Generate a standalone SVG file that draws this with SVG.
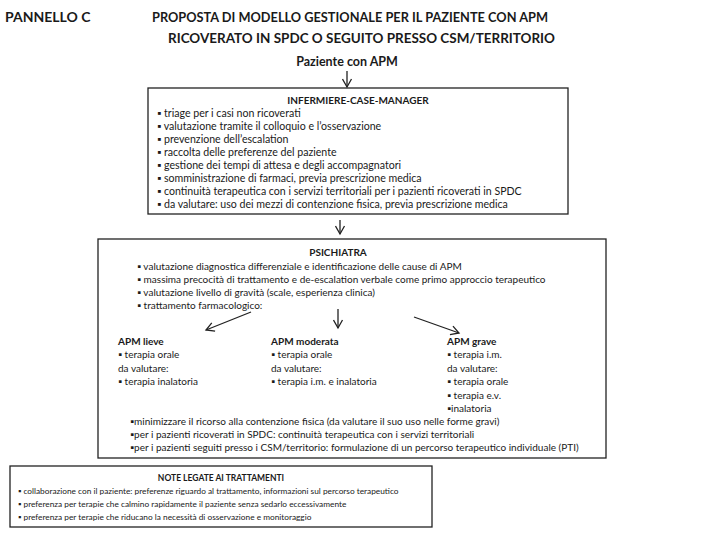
<svg xmlns="http://www.w3.org/2000/svg" width="720" height="540" viewBox="0 0 720 540">
<style>
text{font-family:Lato,"Open Sans","Liberation Sans",sans-serif;fill:#1a1a1a}
.t{font-size:14px;font-weight:bold}
.h{font-size:10px;font-weight:bold;text-anchor:middle}
.b{font-size:10px}
.b1{font-size:10.6px}
.s{font-size:8.3px}
.hs{font-size:8.5px;font-weight:bold;text-anchor:middle}
.bx{fill:#fff;stroke:#222;stroke-width:1.3}
.ar{stroke:#222;stroke-width:1.3;fill:none;marker-end:url(#ah)}
</style>
<defs>
<marker id="ah" markerWidth="11" markerHeight="11" refX="9" refY="5.5" orient="auto" markerUnits="userSpaceOnUse">
<path d="M1,1 L9,5.5 L1,10" fill="none" stroke="#222" stroke-width="1.3"/>
</marker>
</defs>
<rect width="720" height="540" fill="#fff"/>
<g id="title">
<text class="t" x="5" y="22">PANNELLO C</text>
<text class="t" x="152" y="22" textLength="396" lengthAdjust="spacingAndGlyphs">PROPOSTA DI MODELLO GESTIONALE PER IL PAZIENTE CON APM</text>
<text class="t" x="168" y="43" textLength="387" lengthAdjust="spacingAndGlyphs">RICOVERATO IN SPDC O SEGUITO PRESSO CSM/TERRITORIO</text>
</g>
<g id="paziente">
<text x="347" y="66" style="font-size:12.5px;font-weight:bold;text-anchor:middle">Paziente con APM</text>
</g>
<g id="infermiere">
<rect class="bx" x="148" y="88" width="420" height="126"/>
<text class="h" x="358" y="104">INFERMIERE-CASE-MANAGER</text>
<text class="b1" x="157" y="117">▪ triage per i casi non ricoverati</text>
<text class="b1" x="157" y="130">▪ valutazione tramite il colloquio e l’osservazione</text>
<text class="b1" x="157" y="143">▪ prevenzione dell’escalation</text>
<text class="b1" x="157" y="156">▪ raccolta delle preferenze del paziente</text>
<text class="b1" x="157" y="169">▪ gestione dei tempi di attesa e degli accompagnatori</text>
<text class="b1" x="157" y="182">▪ somministrazione di farmaci, previa prescrizione medica</text>
<text class="b1" x="157" y="195">▪ continuità terapeutica con i servizi territoriali per i pazienti ricoverati in SPDC</text>
<text class="b1" x="157" y="208">▪ da valutare: uso dei mezzi di contenzione fisica, previa prescrizione medica</text>
</g>
<g id="psichiatra">
<rect class="bx" x="98" y="239" width="508" height="219"/>
<text class="h" x="338" y="256">PSICHIATRA</text>
<text class="b" x="137" y="270">▪ valutazione diagnostica differenziale e identificazione delle cause di APM</text>
<text class="b" x="137" y="283">▪ massima precocità di trattamento e de-escalation verbale come primo approccio terapeutico</text>
<text class="b" x="137" y="296">▪ valutazione livello di gravità (scale, esperienza clinica)</text>
<text class="b" x="137" y="309">▪ trattamento farmacologico:</text>
</g>
<g id="apm-lieve">
<text class="b" x="118" y="345" style="font-weight:bold">APM lieve</text>
<text class="b" x="118" y="358">▪ terapia orale</text>
<text class="b" x="118" y="372">da valutare:</text>
<text class="b" x="118" y="385">▪ terapia inalatoria</text>
</g>
<g id="apm-moderata">
<text class="b" x="271" y="345" style="font-weight:bold">APM moderata</text>
<text class="b" x="271" y="358">▪ terapia orale</text>
<text class="b" x="271" y="372">da valutare:</text>
<text class="b" x="271" y="385">▪ terapia i.m. e inalatoria</text>
</g>
<g id="apm-grave">
<text class="b" x="447" y="345" style="font-weight:bold">APM grave</text>
<text class="b" x="447" y="358">▪ terapia i.m.</text>
<text class="b" x="447" y="372">da valutare:</text>
<text class="b" x="447" y="385">▪ terapia orale</text>
<text class="b" x="447" y="399">▪ terapia e.v.</text>
<text class="b" x="447" y="412">▪inalatoria</text>
</g>
<g id="psichiatra-note">
<text class="b" x="130" y="425">▪minimizzare il ricorso alla contenzione fisica (da valutare il suo uso nelle forme gravi)</text>
<text class="b" x="130" y="438">▪per i pazienti ricoverati in SPDC: continuità terapeutica con i servizi territoriali</text>
<text class="b" x="130" y="451">▪per i pazienti seguiti presso i CSM/territorio: formulazione di un percorso terapeutico individuale (PTI)</text>
</g>
<g id="note">
<rect class="bx" x="10" y="466" width="422" height="61"/>
<text class="hs" x="221" y="481">NOTE LEGATE AI TRATTAMENTI</text>
<text class="s" x="18" y="494">▪ collaborazione con il paziente: preferenze riguardo al trattamento, informazioni sul percorso terapeutico</text>
<text class="s" x="18" y="507">▪ preferenza per terapie che calmino rapidamente il paziente senza sedarlo eccessivamente</text>
<text class="s" x="18" y="520">▪ preferenza per terapie che riducano la necessità di osservazione e monitoraggio</text>
</g>
<g id="connectors">
<line class="ar" x1="347" y1="71" x2="347" y2="87"/>
<line class="ar" x1="340" y1="220" x2="340" y2="234"/>
<line class="ar" x1="251" y1="312" x2="206" y2="330"/>
<line class="ar" x1="338" y1="309" x2="338" y2="328"/>
<line class="ar" x1="414" y1="317" x2="459" y2="333"/>
</g>
</svg>
